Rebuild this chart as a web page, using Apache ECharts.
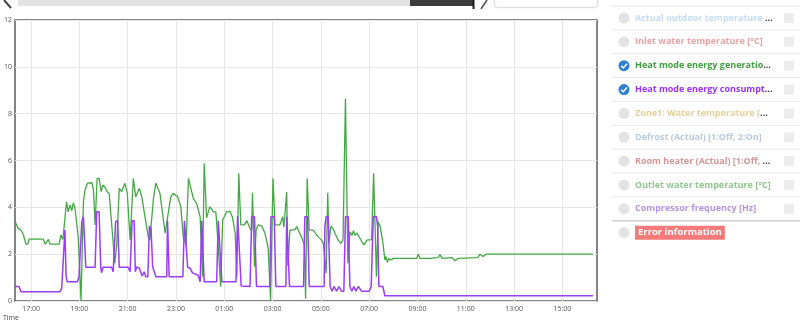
<!DOCTYPE html>
<html><head><meta charset="utf-8">
<script src="https://cdn.jsdelivr.net/npm/echarts@6/dist/echarts.min.js"></script>
<style>html,body{margin:0;padding:0;background:#fff;overflow:hidden}#c{width:800px;height:327px}</style>
</head><body><div id="c"></div>
<script>
// ---- data ----
const genTimes = ['16:20','16:28','16:35','16:41','16:47','16:52','16:55','17:30','17:35','17:43',
'17:47','18:10','18:14','18:19','18:22','18:28','18:32','18:37','18:41','18:45',
'18:49','18:53','18:57','19:04','19:10','19:14','19:20','19:31','19:35','19:39',
'19:44','19:49','19:54','19:58','20:04','20:09','20:14','20:28','20:33','20:39',
'20:45','20:53','20:59','21:06','21:14','21:20','21:29','21:35','21:51','21:55',
'22:04','22:10','22:20','22:33','22:47','22:53','23:04','23:12','23:18','23:25',
'23:31','23:43','23:51','00:00','00:06','00:10','00:16','00:24','00:33','00:39',
'00:44','00:51','00:56','01:06','01:14','01:20','01:27','01:31','01:36','01:41',
'01:50','01:56','02:04','02:08','02:10','02:15','02:19','02:24','02:33','02:41',
'02:45','02:49','02:55','03:01','03:06','03:18','03:25','03:28','03:35','03:38',
'03:43','03:56','04:00','04:06','04:15','04:19','04:22','04:26','04:31','04:41',
'04:48','04:53','05:02','05:06','05:13','05:17','05:20','05:25','05:30','05:35',
'05:43','05:50','05:55','06:01','06:07','06:12','06:17','06:21','06:25','06:30',
'06:37','06:41','06:47','06:54','07:06','07:11','07:18','07:22','07:27','07:34',
'07:39','07:42','07:45','07:49','07:54','08:00','08:33','08:37','08:41','08:58',
'09:02','09:06','09:31','09:51','09:56','10:01','10:26','10:33','10:41','11:30',
'11:35','11:43','11:50','16:16'];
const genValues = [3.40,3.10,3.02,2.82,2.43,2.43,2.64,2.64,2.43,2.63,
2.43,2.43,2.82,2.63,2.55,4.24,3.81,4.10,3.85,4.20,
3.96,3.96,2.75,0.04,4.24,4.74,5.03,5.05,4.74,3.25,
5.24,5.24,4.67,4.95,4.85,4.67,4.60,1.61,2.46,4.81,
4.67,5.03,4.60,2.60,5.24,4.45,4.81,4.45,2.75,2.60,
4.38,5.03,4.60,2.90,4.45,4.60,4.45,4.03,2.75,2.39,
5.24,4.38,4.17,3.60,1.04,5.88,3.55,4.03,3.81,3.81,
2.60,0.61,3.46,3.81,3.83,3.60,2.90,1.00,5.45,3.25,
3.25,3.43,3.10,3.00,4.62,1.46,3.03,3.25,3.20,2.89,
2.60,2.25,0.04,5.24,3.25,3.25,3.60,3.15,4.65,1.50,
3.03,3.05,3.18,2.95,2.60,2.35,0.10,5.24,3.03,3.03,
2.85,2.75,2.60,2.46,1.18,4.62,2.50,3.20,3.10,2.89,
2.60,2.46,2.60,8.65,1.61,2.96,2.80,3.00,2.80,2.90,
2.68,2.55,2.39,2.60,2.62,5.45,1.04,3.39,3.20,2.50,
1.75,1.90,1.65,1.82,1.75,1.82,1.82,1.75,1.82,1.82,
2.00,1.82,1.82,1.85,1.98,1.82,1.85,1.72,1.82,1.85,
2.00,1.90,2.00,2.00];
const consTimes = ['16:20','16:30','16:35','18:12','18:16','18:24','18:27','18:30','18:55','18:59',
'19:06','19:10','19:16','19:39','19:43','19:49','19:53','19:55','19:59','20:20',
'20:24','20:30','20:35','20:39','21:01','21:06','21:11','21:16','21:19','21:22',
'21:29','21:33','21:36','21:41','21:45','21:50','21:54','21:58','22:02','22:05',
'22:10','22:37','22:39','22:43','23:17','23:21','23:25','23:29','23:35','23:41',
'23:55','00:00','00:02','00:04','00:07','00:10','00:41','00:45','00:49','00:54',
'01:29','01:33','01:37','01:42','02:04','02:08','02:15','02:20','02:53','02:56',
'03:04','03:08','03:33','03:35','03:39','03:42','04:17','04:20','04:27','04:31',
'05:08','05:10','05:13','05:18','05:23','05:28','05:33','05:39','05:45','05:51',
'05:57','06:01','06:08','06:12','06:17','06:22','06:27','06:33','06:41','07:00',
'07:05','07:10','07:18','07:21','07:24','07:34','07:39','16:16'];
const consValues = [0.62,0.62,0.40,0.40,0.54,3.03,1.04,0.82,0.82,1.04,
3.39,3.60,1.44,1.44,3.81,3.81,1.44,1.21,1.44,1.44,
1.25,3.39,3.43,1.44,1.44,1.25,3.43,3.43,1.25,1.46,
1.40,1.20,1.07,1.25,1.04,1.04,3.20,3.10,1.46,1.44,
1.04,1.04,3.43,1.04,1.04,3.43,3.43,1.44,1.40,1.20,
1.10,0.82,0.82,3.43,3.43,0.82,0.82,3.43,3.43,0.82,
0.82,3.63,3.63,0.64,0.62,3.60,3.60,0.62,0.62,3.60,
3.60,0.62,0.62,3.60,3.60,0.62,0.62,3.60,3.60,0.62,
0.62,3.20,3.60,3.60,0.62,0.42,0.62,0.42,0.62,0.42,
0.42,3.60,3.60,0.62,0.42,0.62,0.42,0.62,0.42,0.42,
0.62,3.60,3.60,3.20,0.62,0.62,0.22,0.22];
const xTickLabels = ['17:00','19:00','21:00','23:00','01:00','03:00','05:00','07:00','09:00','11:00','13:00','15:00'];
const yTicks = [0, 2, 4, 6, 8, 10, 12];
const axisStart = '16:20';      // first day
const axisEndNextDay = '16:26'; // following day
const seriesNames = ['Heat mode energy generation', 'Heat mode energy consumption'];
const seriesColors = ['#43a843', '#9b3cf6'];
const legendTexts = ['Actual outdoor temperature ', 'Inlet water temperature [°C]', 'Heat mode energy generatio',
  'Heat mode energy consumpt', 'Zone1: Water temperature (', 'Defrost (Actual) [1:Off, 2:On]',
  'Room heater (Actual) [1:Off, ', 'Outlet water temperature [°C]', 'Compressor frequency [Hz]', 'Error information'];
const legendTruncated = [true, false, true, true, true, false, true, false, false, false];
const legendColors = ['#c4ddf6', '#e9a2a2', '#3f9f3f', '#9a33f5', '#e4cf98', '#b7cbe0', '#d49696', '#8fc78f', '#b593e6', '#ffffff'];
const legendChecked = [false, false, true, true, false, false, false, false, false, false];

// ---- helpers ----
function hm(s) { const p = s.split(':').map(Number); return p[0] + p[1] / 60; }
function toHours(list) {
  let off = 0, prev = -Infinity;
  return list.map(s => { let v = hm(s) + off; if (v < prev) { off += 24; v += 24; } prev = v; return v; });
}
const genX = toHours(genTimes), consX = toHours(consTimes), tickX = toHours(xTickLabels);
const xMin = hm(axisStart), xMax = hm(axisEndNextDay) + 24;
const pad = n => (n < 10 ? '0' : '') + n;

const FONT = "'Open Sans', 'Noto Sans', sans-serif";
const LFS = 9;
const graphics = [];
// top slider remnants
graphics.push({ type: 'rect', shape: { x: 18, y: -4, width: 456, height: 10 }, style: { fill: '#e3e3e3' } });
graphics.push({ type: 'rect', shape: { x: 410, y: -4, width: 63, height: 10 }, style: { fill: '#3c3c3c' } });
graphics.push({ type: 'line', shape: { x1: 473.5, y1: 0, x2: 473.5, y2: 9 }, style: { stroke: '#1e1e1e', lineWidth: 2 } });
graphics.push({ type: 'line', shape: { x1: 4, y1: 0, x2: 11, y2: 8 }, style: { stroke: '#444', lineWidth: 2 } });
graphics.push({ type: 'line', shape: { x1: 487, y1: 0, x2: 481, y2: 9 }, style: { stroke: '#555', lineWidth: 1.6 } });
graphics.push({ type: 'rect', shape: { x: 494.5, y: -6, width: 103, height: 13.5, r: 3 }, style: { fill: '#fff', stroke: '#dcdcdc', lineWidth: 1, shadowBlur: 2, shadowColor: 'rgba(0,0,0,0.08)' } });
// axis title
graphics.push({ type: 'text', x: 3, y: 318, style: { text: 'Time', fontSize: 7, fontFamily: FONT, fill: '#444', verticalAlign: 'middle' } });
// legend panel
const rowH = 23.85, row0 = 18;
graphics.push({ type: 'circle', shape: { cx: 624, cy: row0 - rowH, r: 5.5 }, style: { fill: '#e3e3e3' } });
for (let i = 0; i < legendTexts.length; i++) {
  const sepY = row0 - 12 + i * rowH;
  const last = i === legendTexts.length - 1;
  graphics.push({ type: 'line', shape: { x1: 612, y1: sepY, x2: 800, y2: sepY }, style: { stroke: last ? '#d2d2d2' : '#e8e8e8', lineWidth: last ? 1.5 : 1 } });
  const cy = row0 + i * rowH;
  if (legendChecked[i]) {
    graphics.push({ type: 'circle', shape: { cx: 624, cy: cy, r: 5.5 }, style: { fill: '#2e7ed3' } });
    graphics.push({ type: 'polyline', shape: { points: [[621.2, cy + 0.2], [623.3, cy + 2.2], [627, cy - 2]] }, style: { stroke: '#fff', lineWidth: 1.5, fill: null } });
  } else {
    graphics.push({ type: 'circle', shape: { cx: 624, cy: cy, r: 5.5 }, style: { fill: '#e3e3e3' } });
  }
  if (last) {
    graphics.push({ type: 'text', x: 635, y: cy, style: { text: legendTexts[i], fontSize: LFS + 0.5, fontWeight: 'bold', fontFamily: FONT, fill: legendColors[i], verticalAlign: 'middle', backgroundColor: '#f57a7a', padding: [2, 3, 2, 3] } });
  } else {
    const txt = legendTruncated[i] ? '{a|' + legendTexts[i] + '}{e|...}' : '{a|' + legendTexts[i] + '}';
    graphics.push({ type: 'text', x: 635, y: cy, style: { text: txt, verticalAlign: 'middle',
      rich: { a: { fontSize: LFS, fontWeight: 'bold', fontFamily: FONT, fill: legendColors[i] }, e: { fontSize: LFS, fontWeight: 'bold', fontFamily: FONT, fill: '#333' } } } });
    graphics.push({ type: 'rect', shape: { x: 784, y: cy - 5, width: 10, height: 10, r: 1 }, style: { fill: '#ececec' } });
  }
}

const chart = echarts.init(document.getElementById('c'), null, { renderer: 'canvas' });
chart.setOption({
  animation: false,
  backgroundColor: '#fff',
  grid: { left: 15, right: 203, top: 20, bottom: 26, show: true, borderColor: '#5c5c5c', borderWidth: 1.5, containLabel: false },
  xAxis: {
    type: 'value', min: xMin, max: xMax,
    axisLine: { show: false },
    axisTick: { show: false, customValues: tickX },
    axisLabel: { customValues: tickX, fontSize: 7, color: '#555', fontFamily: FONT, margin: 4,
      formatter: v => pad(Math.round(v) % 24) + ':00' },
    splitLine: { show: true, lineStyle: { color: '#e6e6e6', width: 1 } }
  },
  yAxis: {
    type: 'value', min: yTicks[0], max: yTicks[yTicks.length - 1], interval: yTicks[1] - yTicks[0],
    axisLine: { show: false }, axisTick: { show: false },
    axisLabel: { fontSize: 7, color: '#555', fontFamily: FONT, margin: 3 },
    splitLine: { show: true, lineStyle: { color: '#e6e6e6', width: 1 } }
  },
  series: [
    { name: seriesNames[0], type: 'line', showSymbol: false, symbol: 'none',
      data: genX.map((x, i) => [x, genValues[i]]), lineStyle: { color: seriesColors[0], width: 1.3 }, itemStyle: { color: seriesColors[0] } },
    { name: seriesNames[1], type: 'line', showSymbol: false, symbol: 'none',
      data: consX.map((x, i) => [x, consValues[i]]), lineStyle: { color: seriesColors[1], width: 1.5 }, itemStyle: { color: seriesColors[1] } }
  ],
  graphic: graphics
});
</script>
</body></html>
